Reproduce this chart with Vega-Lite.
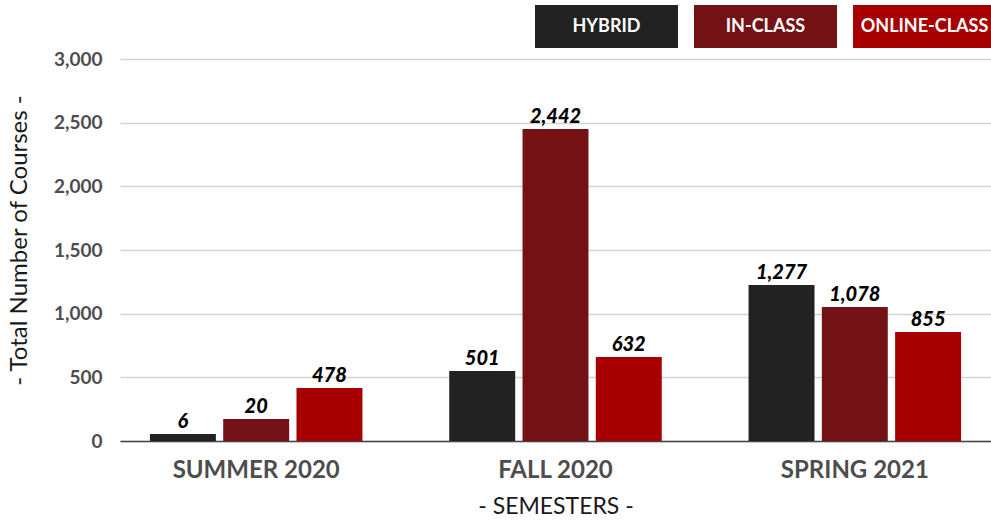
{
  "$schema": "https://vega.github.io/schema/vega-lite/v6.json",
  "autosize": {"type": "none"},
  "padding": {"left": 120, "top": 59, "right": 0, "bottom": 84},
  "width": 871,
  "height": 382,
  "background": "white",
  "data": {
    "values": [
      {"semester": "SUMMER 2020", "type": "HYBRID", "courses": 55, "label": "6"},
      {"semester": "SUMMER 2020", "type": "IN-CLASS", "courses": 173, "label": "20"},
      {"semester": "SUMMER 2020", "type": "ONLINE-CLASS", "courses": 416, "label": "478"},
      {"semester": "FALL 2020", "type": "HYBRID", "courses": 550, "label": "501"},
      {"semester": "FALL 2020", "type": "IN-CLASS", "courses": 2450, "label": "2,442"},
      {"semester": "FALL 2020", "type": "ONLINE-CLASS", "courses": 660, "label": "632"},
      {"semester": "SPRING 2021", "type": "HYBRID", "courses": 1225, "label": "1,277"},
      {"semester": "SPRING 2021", "type": "IN-CLASS", "courses": 1052, "label": "1,078"},
      {"semester": "SPRING 2021", "type": "ONLINE-CLASS", "courses": 856, "label": "855"}
    ]
  },
  "encoding": {
    "x": {
      "field": "semester",
      "type": "nominal",
      "sort": ["SUMMER 2020", "FALL 2020", "SPRING 2021"],
      "scale": {"paddingInner": 0.29, "paddingOuter": 0.1},
      "axis": {
        "title": "- SEMESTERS -",
        "labelAngle": 0,
        "labelFont": "Lato",
        "labelFontSize": 24,
        "labelFontWeight": "bold",
        "labelColor": "#4d4d4d",
        "labelPadding": 17,
        "ticks": false,
        "domainColor": "#444444",
        "domainWidth": 1.5,
        "titleFont": "Lato",
        "titleFontSize": 23,
        "titleFontWeight": "normal",
        "titleColor": "#1a1a1a",
        "titlePadding": 13
      }
    },
    "xOffset": {
      "field": "type",
      "type": "nominal",
      "sort": ["HYBRID", "IN-CLASS", "ONLINE-CLASS"],
      "scale": {"paddingInner": 0.1, "paddingOuter": 0}
    },
    "y": {
      "field": "courses",
      "type": "quantitative",
      "scale": {"domain": [0, 3000]},
      "axis": {
        "title": "- Total Number of Courses -",
        "values": [0, 500, 1000, 1500, 2000, 2500, 3000],
        "format": ",.0f",
        "domain": false,
        "ticks": false,
        "gridColor": "#d2d2d2",
        "gridWidth": 1.5,
        "labelFont": "Lato",
        "labelFontSize": 19,
        "labelFontWeight": "bold",
        "labelColor": "#4d4d4d",
        "labelPadding": 18,
        "titleFont": "Lato",
        "titleFontSize": 24,
        "titleFontWeight": "normal",
        "titleColor": "#1a1a1a",
        "titlePadding": 22,
        "titleY": 181
      }
    }
  },
  "layer": [
    {
      "mark": {"type": "bar"},
      "encoding": {
        "color": {
          "field": "type",
          "type": "nominal",
          "sort": ["HYBRID", "IN-CLASS", "ONLINE-CLASS"],
          "scale": {"domain": ["HYBRID", "IN-CLASS", "ONLINE-CLASS"], "range": ["#222222", "#741114", "#a80000"]},
          "legend": {
            "orient": "none",
            "legendX": 415,
            "legendY": -104,
            "direction": "horizontal",
            "title": null,
            "padding": 0,
            "symbolType": "M-1,-0.3H1V0.3H-1Z",
            "symbolSize": 20449,
            "symbolStrokeWidth": 0,
            "symbolOpacity": 1,
            "columnPadding": 16,
            "labelOffset": -71.5,
            "labelAlign": "center",
            "labelBaseline": "middle",
            "labelFont": "Lato",
            "labelFontSize": 18,
            "labelFontWeight": "bold",
            "labelColor": "white",
            "labelLimit": 300
          }
        }
      }
    },
    {
      "mark": {
        "type": "text",
        "baseline": "alphabetic",
        "dy": -6,
        "font": "Lato",
        "fontSize": 20,
        "fontWeight": 900,
        "fontStyle": "italic",
        "color": "#000000"
      },
      "encoding": {
        "text": {"field": "label"}
      }
    }
  ],
  "config": {
    "view": {"stroke": null}
  }
}
